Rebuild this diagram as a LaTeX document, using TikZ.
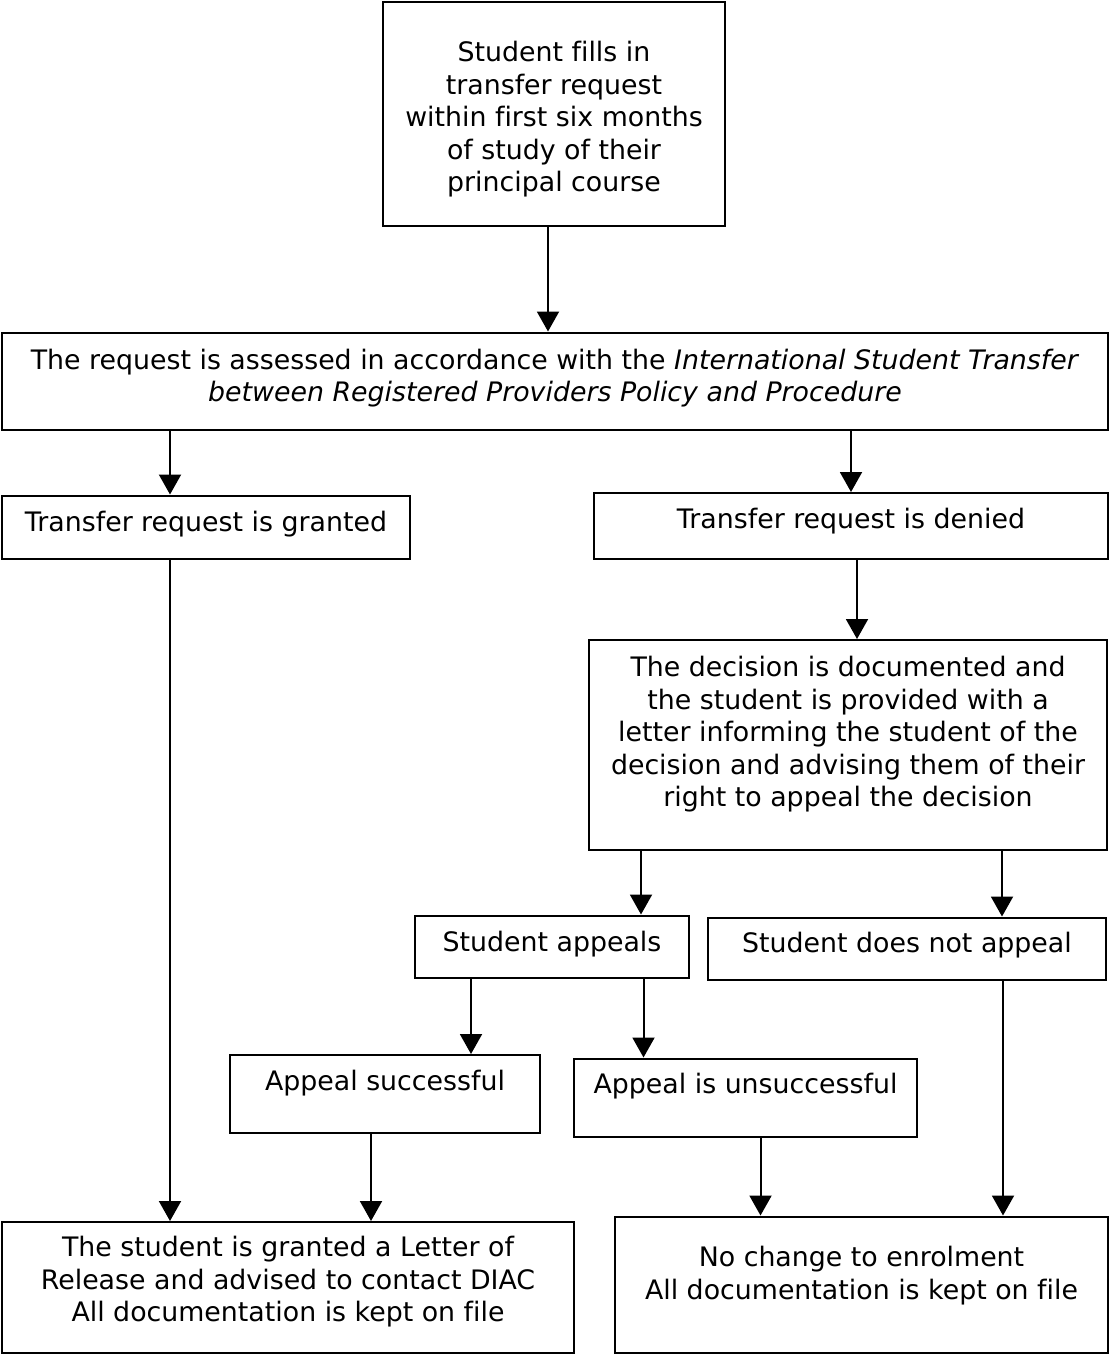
\documentclass[tikz,border=0pt]{standalone}
\usepackage{fontspec}
\setmainfont{DejaVu Sans}[Ligatures=NoCommon]
\usetikzlibrary{arrows.meta}
% raise the text inside a box without changing its size
\newcommand\lift[2]{\raisebox{#1}[\height][\depth]{\begin{tabular}{@{}c@{}}#2\end{tabular}}}

\begin{document}
\begin{tikzpicture}[x=1pt, y=-1pt, font=\fontsize{26.8}{32.5}\selectfont,
    box/.style={draw, line width=2pt, inner sep=0pt, align=center},
    arr/.style={line width=2pt, -{Triangle[length=20pt, width=22pt]}}]
    \useasboundingbox (0,0) rectangle (1109,1354);
    % boxes
    \node[box, minimum width=342pt, minimum height=224pt] (req) at (554,114) {\lift{-6pt}{Student fills in\\transfer request\\within first six months\\of study of their\\principal course}};
    \node[box, minimum width=1106pt, minimum height=97pt] (assess) at (555,381) {\lift{2pt}{The request is assessed in accordance with the \textit{International Student Transfer}\\\textit{between Registered Providers Policy and Procedure}}};
    \node[box, minimum width=408pt, minimum height=63pt] (granted) at (206,527) {\lift{2pt}{Transfer request is granted}};
    \node[box, minimum width=514pt, minimum height=66pt] (denied) at (851,526) {\lift{4pt}{Transfer request is denied}};
    \node[box, minimum width=518pt, minimum height=210pt] (decision) at (848,745) {\lift{10pt}{The decision is documented and\\the student is provided with a\\letter informing the student of the\\decision and advising them of their\\right to appeal the decision}};
    \node[box, minimum width=274pt, minimum height=62pt] (appeals) at (552,946.5) {\lift{2pt}{Student appeals}};
    \node[box, minimum width=398pt, minimum height=62pt] (noappeal) at (907,948.5) {\lift{3pt}{Student does not appeal}};
    \node[box, minimum width=310pt, minimum height=78pt] (success) at (385,1094) {\lift{10pt}{Appeal successful}};
    \node[box, minimum width=343pt, minimum height=78pt] (unsuccess) at (745.5,1097.5) {\lift{11pt}{Appeal is unsuccessful}};
    \node[box, minimum width=572pt, minimum height=131pt] (letter) at (288,1287.5) {\lift{5pt}{The student is granted a Letter of\\Release and advised to contact DIAC\\All documentation is kept on file}};
    \node[box, minimum width=493pt, minimum height=136pt] (nochange) at (861.5,1284.5) {\lift{8pt}{No change to enrolment\\All documentation is kept on file}};
    % arrows
    \draw[arr] ([xshift=-6pt]req.south) -- ([xshift=-6pt]req.south |- assess.north);
    \draw[arr] ([xshift=-36pt]granted.north |- assess.south) -- ([xshift=-36pt]granted.north);
    \draw[arr] (denied.north |- assess.south) -- (denied.north);
    \draw[arr] ([xshift=6pt]denied.south) -- ([xshift=6pt]denied.south |- decision.north);
    \draw[arr] ([xshift=89pt]appeals.north |- decision.south) -- ([xshift=89pt]appeals.north);
    \draw[arr] ([xshift=95pt]noappeal.north |- decision.south) -- ([xshift=95pt]noappeal.north);
    \draw[arr] ([xshift=86pt]success.north |- appeals.south) -- ([xshift=86pt]success.north);
    \draw[arr] ([xshift=-102pt]unsuccess.north |- appeals.south) -- ([xshift=-102pt]unsuccess.north);
    \draw[arr] ([xshift=-118pt]letter.north |- granted.south) -- ([xshift=-118pt]letter.north);
    \draw[arr] ([xshift=-14pt]success.south) -- ([xshift=-14pt]success.south |- letter.north);
    \draw[arr] ([xshift=15pt]unsuccess.south) -- ([xshift=15pt]unsuccess.south |- nochange.north);
    \draw[arr] ([xshift=96pt]noappeal.south) -- ([xshift=96pt]noappeal.south |- nochange.north);
\end{tikzpicture}
\end{document}
